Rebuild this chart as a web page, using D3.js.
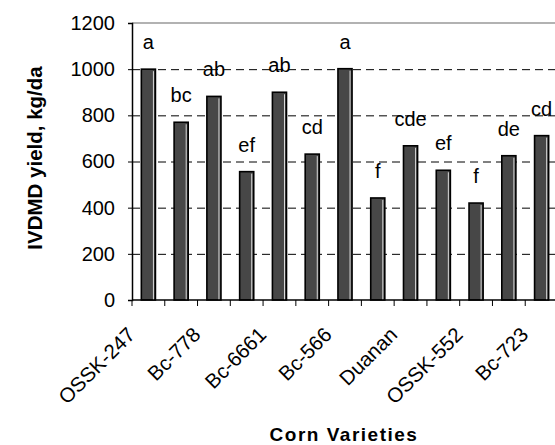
<!DOCTYPE html>
<html>
<head>
<meta charset="utf-8">
<script src="https://cdn.jsdelivr.net/npm/d3@7"></script>
<style>
  body { margin: 0; background: #fff; }
  text { font-family: "Liberation Sans", Arial, sans-serif; fill: #000; }
</style>
</head>
<body>
<svg width="555" height="445"></svg>
<script>
// varieties: only every other name is printed on the axis
var varieties = ["OSSK-247", "", "Bc-778", "", "Bc-6661", "", "Bc-566", "", "Duanan", "", "OSSK-552", "", "Bc-723"];
var yieldVals = [1000, 770, 882, 556, 900, 632, 1002, 442, 668, 562, 420, 625, 712];
var groups = ["a", "bc", "ab", "ef", "ab", "cd", "a", "f", "cde", "ef", "f", "de", "cd"];
var yTicks = [0, 200, 400, 600, 800, 1000, 1200];

var svg = d3.select("svg");

var x = d3.scaleBand()
    .domain(d3.range(varieties.length))
    .range([132, 558])
    .padding(0);

var y = d3.scaleLinear()
    .domain([0, 1200])
    .range([300, 23]);

var barW = x.bandwidth() * 0.43;

// dashed grid
svg.append("g").selectAll("line")
    .data(yTicks.filter(function (d) { return d > 0 && d < 1200; }))
    .enter().append("line")
    .attr("x1", 132).attr("x2", 558)
    .attr("y1", function (d) { return y(d) + 0.5; })
    .attr("y2", function (d) { return y(d) + 0.5; })
    .attr("stroke", "#000")
    .attr("stroke-width", 1)
    .attr("stroke-dasharray", "8,5");

// plot area top border
svg.append("line")
    .attr("x1", 132).attr("x2", 558)
    .attr("y1", y(1200)).attr("y2", y(1200))
    .attr("stroke", "#999").attr("stroke-width", 1.5);

// bars
var bar = svg.append("g").selectAll("g")
    .data(yieldVals)
    .enter().append("g")
    .attr("transform", function (d, i) {
        return "translate(" + (x(i) + (x.bandwidth() - barW) / 2) + ",0)";
    });

bar.append("rect")
    .attr("y", function (d) { return y(d); })
    .attr("width", barW)
    .attr("height", function (d) { return y(0) - y(d); })
    .attr("fill", "#474747")
    .attr("stroke", "#000")
    .attr("stroke-width", 1.6);

bar.append("line")
    .attr("x1", barW - 2).attr("x2", barW - 2)
    .attr("y1", function (d) { return y(d) + 2; })
    .attr("y2", y(0))
    .attr("stroke", "#fff")
    .attr("stroke-width", 0.8);

// group letters
svg.append("g").selectAll("text")
    .data(groups)
    .enter().append("text")
    .attr("x", function (d, i) { return x(i) + x.bandwidth() / 2; })
    .attr("y", function (d, i) { return y(yieldVals[i]) - 20; })
    .attr("text-anchor", "middle")
    .attr("font-size", 20)
    .text(function (d) { return d; });

// y axis
var yAxis = svg.append("g")
    .attr("transform", "translate(132,0)")
    .call(d3.axisLeft(y).tickValues(yTicks).tickFormat(d3.format("d")).tickSize(4).tickPadding(13));
yAxis.select(".domain").attr("stroke", "#000").attr("stroke-width", 1.5);
yAxis.selectAll(".tick line").attr("stroke", "#000");
yAxis.selectAll(".tick text")
    .attr("font-size", 20)
    .attr("font-family", "Liberation Sans, Arial, sans-serif");

// x axis baseline and ticks at band edges
svg.append("line")
    .attr("x1", 132).attr("x2", 558)
    .attr("y1", y(0)).attr("y2", y(0))
    .attr("stroke", "#000").attr("stroke-width", 1.5);

svg.append("g").selectAll("line")
    .data(d3.range(varieties.length + 1))
    .enter().append("line")
    .attr("x1", function (i) { return 132 + i * x.step(); })
    .attr("x2", function (i) { return 132 + i * x.step(); })
    .attr("y1", y(0)).attr("y2", y(0) + 6)
    .attr("stroke", "#000");

// category labels
svg.append("g").selectAll("text")
    .data(varieties)
    .enter().append("text")
    .attr("transform", function (d, i) {
        return "translate(" + (x(i) + x.bandwidth() / 2 - 12) + ",336) rotate(-45)";
    })
    .attr("text-anchor", "end")
    .attr("font-size", 20.5)
    .text(function (d) { return d; });

// axis titles
svg.append("text")
    .attr("transform", "translate(42,158) rotate(-90)")
    .attr("text-anchor", "middle")
    .attr("font-size", 20.5)
    .attr("font-weight", "bold")
    .text("IVDMD yield, kg/da");

svg.append("text")
    .attr("x", 344).attr("y", 441)
    .attr("text-anchor", "middle")
    .attr("font-size", 19)
    .attr("font-weight", "bold")
    .attr("letter-spacing", 1.5)
    .text("Corn Varieties");
</script>
</body>
</html>
